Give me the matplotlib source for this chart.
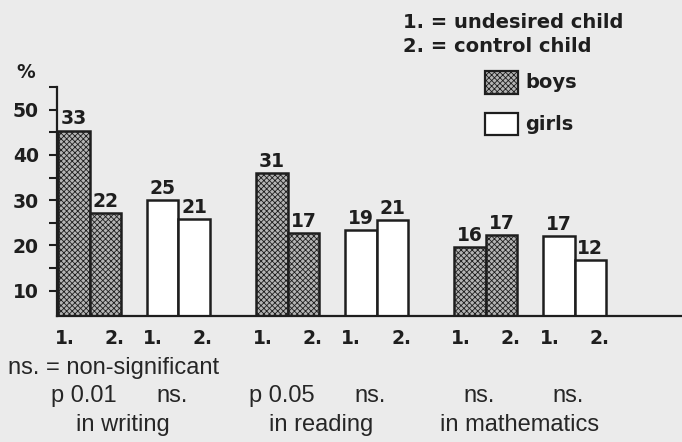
import matplotlib
matplotlib.use("Agg")
import matplotlib.pyplot as plt
from matplotlib.patches import Rectangle
import matplotlib.transforms as mtransforms

# ---------------- data ----------------
categories = ["in writing", "in reading", "in mathematics"]
boys_undesired_pct = [45.4, 36.0, 19.6]
boys_control_pct = [27.1, 22.8, 22.2]
girls_undesired_pct = [30.0, 23.5, 22.0]
girls_control_pct = [25.9, 25.6, 16.7]
boys_undesired_n = [33, 31, 16]
boys_control_n = [22, 17, 17]
girls_undesired_n = [25, 19, 17]
girls_control_n = [21, 21, 12]
boys_sig = ["p 0.01", "p 0.05", "ns."]
girls_sig = ["ns.", "ns.", "ns."]
group_labels = ["1.", "2."]
y_major = [10, 20, 30, 40, 50]
y_minor = [15, 25, 35, 45, 55]

# ---------------- style ----------------
BG = "#ebebeb"
INK = "#1e1e1e"
BOLD = dict(family="DejaVu Sans", weight="bold", size=13.5, color=INK)
REG = dict(family="Liberation Sans", size=17, color="#262626")
BOYS_STYLE = dict(facecolor="#b4b4b4", edgecolor=INK, hatch="xxxxxx", linewidth=1.8)
GIRLS_STYLE = dict(facecolor="white", edgecolor=INK, linewidth=1.8)
plt.rcParams["hatch.color"] = "#404040"
plt.rcParams["hatch.linewidth"] = 0.6

fig = plt.figure(figsize=(6.82, 4.42), dpi=100, facecolor=BG)
ax = fig.add_axes([0.0843, 0.285, 0.9157, 0.518])
ax.set_facecolor(BG)

W = 1.0
group_step = 6.29
first_center = 1.02
girls_shift = 2.82

xticks, xticklabels = [], []
for i in range(len(categories)):
    bc = first_center + group_step * i
    gc = bc + girls_shift
    pairs = [
        (bc, boys_undesired_pct[i], boys_control_pct[i], boys_undesired_n[i], boys_control_n[i], BOYS_STYLE),
        (gc, girls_undesired_pct[i], girls_control_pct[i], girls_undesired_n[i], girls_control_n[i], GIRLS_STYLE),
    ]
    for center, v1, v2, n1, n2, style in pairs:
        xs = [center - W / 2, center + W / 2]
        bars = ax.bar(xs, [v1, v2], width=W, **style, zorder=2)
        for b, n in zip(bars, [n1, n2]):
            ax.annotate(str(n), (b.get_x() + b.get_width() / 2, b.get_height()),
                        xytext=(0, 1.5), textcoords="offset points",
                        ha="center", va="bottom", **BOLD)
        xticks += [xs[0] - 0.3, xs[1] + 0.28]
        xticklabels += group_labels

ax.set_xlim(0, 19.83)
ax.set_ylim(4.4, 55)

ax.set_xticks(xticks)
ax.set_xticklabels(xticklabels, fontdict=BOLD)
ax.tick_params(axis="x", length=0, pad=9)

ax.set_yticks(y_major)
ax.set_yticklabels([str(v) for v in y_major], fontdict=BOLD)
ax.set_yticks(y_minor, minor=True)
ax.tick_params(axis="y", which="both", direction="out", length=5.5, width=1.5,
               color=INK, pad=8)

for s in ["top", "right"]:
    ax.spines[s].set_visible(False)
for s in ["left", "bottom"]:
    ax.spines[s].set_linewidth(1.6)
    ax.spines[s].set_color(INK)

# % label
fig.text(26 / 682, 1 - 72 / 442, "%", ha="center", va="center", **BOLD)

def fx(px):
    return px / 682

def fy(py):
    return 1 - py / 442

bold_leg = dict(BOLD)
bold_leg["size"] = 14
fig.text(fx(403), fy(23), "1. = undesired child", ha="left", va="center", **bold_leg)
fig.text(fx(403), fy(47), "2. = control child", ha="left", va="center", **bold_leg)
for (top, bot), label, style in [((71, 94), "boys", BOYS_STYLE), ((113, 135), "girls", GIRLS_STYLE)]:
    st = dict(style)
    st["linewidth"] = 1.6
    r = Rectangle((fx(485), fy(bot)), fx(518) - fx(485), fy(top) - fy(bot),
                  transform=fig.transFigure, **st)
    fig.patches.append(r)
    fig.text(fx(525), fy((top + bot) / 2), label, ha="left", va="center", **bold_leg)

# lower annotations
trans = mtransforms.blended_transform_factory(ax.transData, fig.transFigure)
fig.text(fx(8), fy(368), "ns. = non-significant", ha="left", va="center", **REG)
for i in range(len(categories)):
    bc = first_center + group_step * i
    gc = bc + girls_shift
    ax.text(bc - 0.2, fy(396), boys_sig[i], transform=trans, ha="center", va="center",
            clip_on=False, **REG)
    ax.text(gc - 0.2, fy(396), girls_sig[i], transform=trans, ha="center", va="center",
            clip_on=False, **REG)
    ax.text((bc + gc) / 2 - 0.35, fy(425), categories[i], transform=trans, ha="center",
            va="center", clip_on=False, **REG)

fig.savefig("out.png", dpi=100, facecolor=BG)
